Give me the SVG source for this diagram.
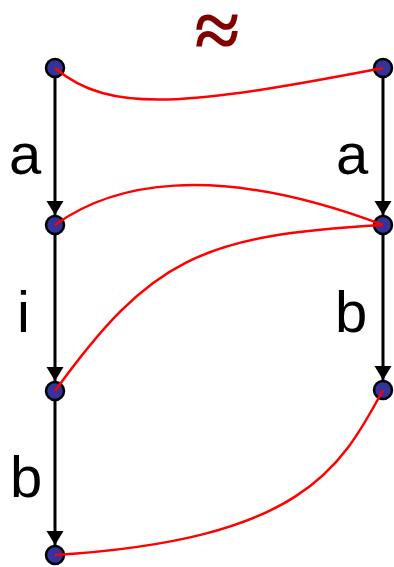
<svg xmlns="http://www.w3.org/2000/svg" width="394" height="567" viewBox="0 0 394 567">
<style>
.node{fill:#333399;stroke:#000;stroke-width:2.5}
.edge{stroke:#000;stroke-width:3;fill:none}
.rel{stroke:#ff0000;stroke-width:2.5;fill:none}
.lbl{font-family:"Liberation Sans",Arial,sans-serif;font-size:58px;fill:#000}
</style>
<defs>
<marker id="arr" markerUnits="userSpaceOnUse" markerWidth="15" markerHeight="18" refX="14" refY="8.5" orient="auto" viewBox="0 0 15 18">
<path d="M0,0 L14,8.5 L0,17 z" fill="#000"/>
</marker>
</defs>
<rect width="394" height="567" fill="#fff"/>
<text x="217" y="58" text-anchor="middle" font-family="'Liberation Serif',serif" font-weight="bold" font-size="82" fill="#800000">≈</text>
<g id="nodes">
<g id="l1"><circle class="node" cx="55" cy="68" r="9"/></g>
<g id="l2"><circle class="node" cx="55" cy="225" r="9"/></g>
<g id="l3"><circle class="node" cx="55" cy="391" r="9"/></g>
<g id="l4"><circle class="node" cx="55" cy="555" r="9"/></g>
<g id="r1"><circle class="node" cx="383" cy="68" r="9"/></g>
<g id="r2"><circle class="node" cx="383" cy="225" r="9"/></g>
<g id="r3"><circle class="node" cx="383" cy="390" r="9"/></g>
</g>
<g id="connectors">
<line class="edge" x1="55" y1="78" x2="55" y2="215" marker-end="url(#arr)"/>
<line class="edge" x1="55" y1="235" x2="55" y2="381" marker-end="url(#arr)"/>
<line class="edge" x1="55" y1="401" x2="55" y2="545" marker-end="url(#arr)"/>
<line class="edge" x1="383" y1="78" x2="383" y2="215" marker-end="url(#arr)"/>
<line class="edge" x1="383" y1="235" x2="383" y2="380" marker-end="url(#arr)"/>
<path class="rel" d="M55,68 C110,115 190,105 383,68"/>
<path class="rel" d="M55,225 C110,185 210,160 383,225"/>
<path class="rel" d="M55,391 C150,260 200,235 383,225"/>
<path class="rel" d="M383,390 C340,470 300,540 55,555"/>
</g>
<g id="labels">
<text class="lbl" x="9" y="174">a</text>
<text class="lbl" x="336" y="174">a</text>
<text class="lbl" x="17" y="332">i</text>
<text class="lbl" x="335" y="332">b</text>
<text class="lbl" x="10" y="497">b</text>
</g>
</svg>
